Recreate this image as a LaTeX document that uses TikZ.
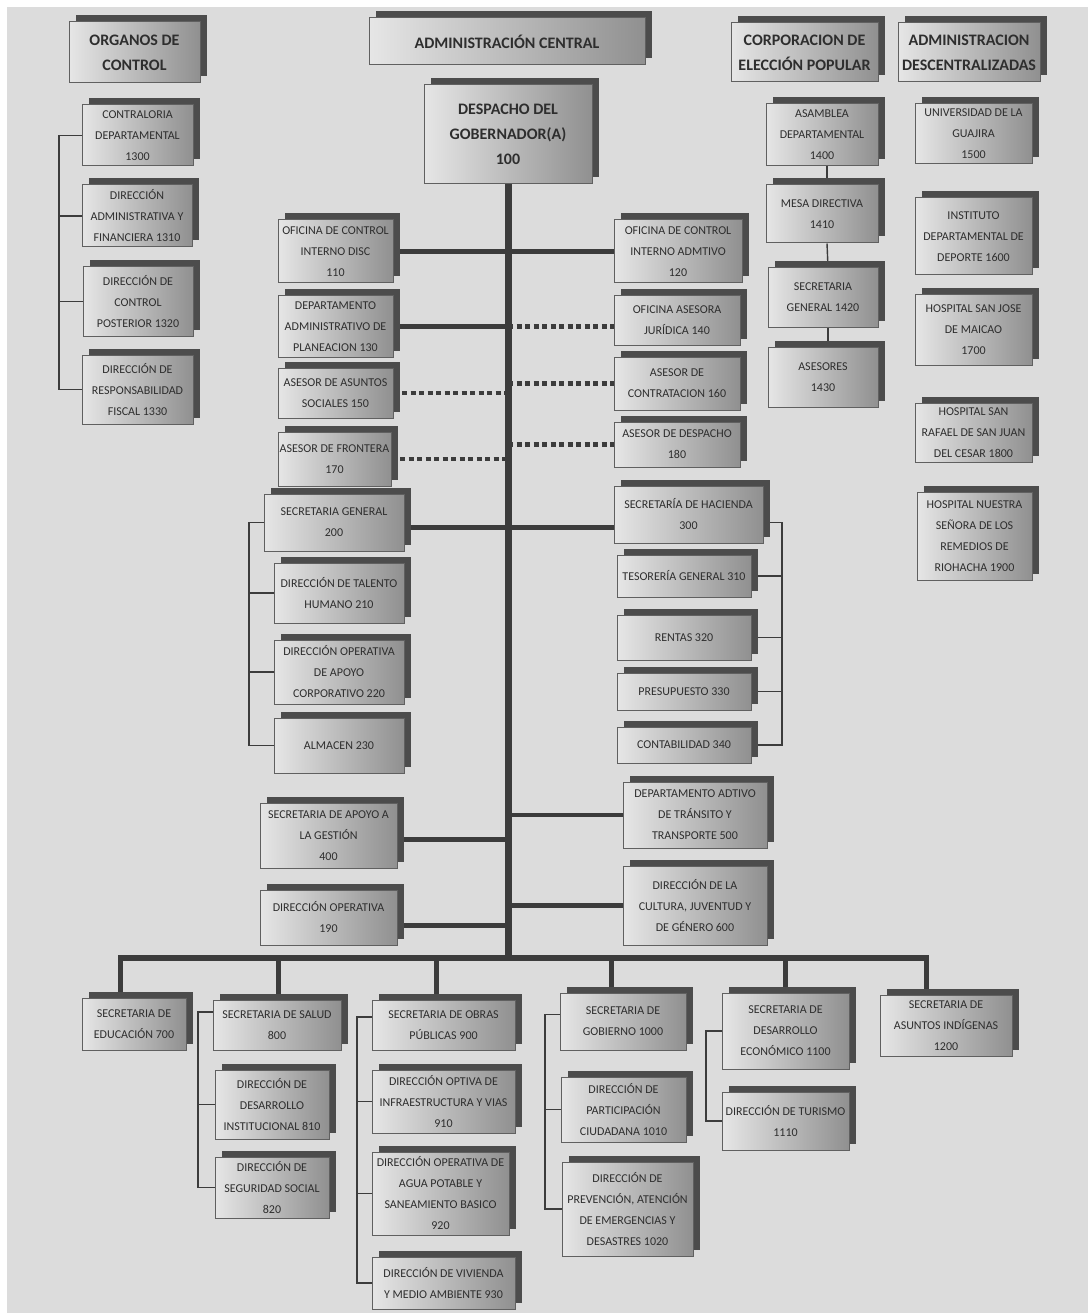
\documentclass[tikz,border=0pt]{standalone}
\usepackage{fontspec}
\setmainfont{Carlito}
\usetikzlibrary{shadows,calc}
\definecolor{bgc}{HTML}{DCDCDC}
\definecolor{boxL}{HTML}{E6E6E6}
\definecolor{boxR}{HTML}{909090}
\definecolor{boxline}{HTML}{606060}
\definecolor{shadowc}{HTML}{4C4C4C}
\definecolor{linec}{HTML}{3C3C3C}
\definecolor{txt}{HTML}{2E2E2E}
\pgfdeclarelayer{back}
\pgfdeclarelayer{lines}
\pgfsetlayers{back,lines,main}
\newcommand\bxfont{\fontsize{12}{21}\selectfont}
\newcommand\hdfont{\bfseries\fontsize{16}{25}\selectfont}
\newcommand\orgbox[7][]{%
  \pgfmathsetmacro\obw{#5-#3}\pgfmathsetmacro\obh{#6-#4}%
  \pgfmathsetmacro\obx{(#3+#5)/2}\pgfmathsetmacro\oby{(#4+#6)/2}%
  \node[box,#1,minimum width=\obw pt,minimum height=\obh pt] (#2) at (\obx,\oby) {#7};}
\tikzset{
  box/.style={draw=boxline, line width=1pt, left color=boxL, right color=boxR,
    text=txt, align=center, inner sep=0pt, font=\bxfont,
    general shadow={fill=shadowc, shadow xshift=6.5pt, shadow yshift=6.5pt}},
  hdr/.style={font=\hdfont},
  trunkline/.style={draw=linec, line width=7pt},
  barline/.style={draw=linec, line width=6pt},
  dropline/.style={draw=linec, line width=5pt},
  conn/.style={draw=linec, line width=4.5pt},
  dotconn/.style={draw=linec, line width=4.5pt, dash pattern=on 5pt off 3.5pt},
  bracket/.style={draw=linec, line width=1.4pt},
}
\begin{document}
\begin{tikzpicture}[x=1pt,y=-1pt]
\useasboundingbox (0,0) rectangle (1088,1313);
\begin{pgfonlayer}{back}
  \fill[white] (0,0) rectangle (1088,1313);
  \fill[bgc] (7,7) rectangle (1088,1313);
\end{pgfonlayer}

% headers
\orgbox[hdr]{hOC}{69}{22}{200}{83}{ORGANOS DE\\CONTROL}
\orgbox[hdr]{hAC}{369}{18}{645}{65}{ADMINISTRACIÓN CENTRAL}
\orgbox[hdr]{desp}{424}{85}{592}{184}{DESPACHO DEL\\GOBERNADOR(A)\\100}
\orgbox[hdr]{hCE}{731}{23}{878}{82}{CORPORACION DE\\ELECCIÓN POPULAR}
\orgbox[hdr]{hAD}{898}{23}{1040}{82}{ADMINISTRACION\\DESCENTRALIZADAS}

% organos de control
\orgbox{n1300}{82}{105}{193}{166}{CONTRALORIA\\DEPARTAMENTAL\\1300}
\orgbox{n1310}{82}{185}{192}{247}{DIRECCIÓN\\ADMINISTRATIVA Y\\FINANCIERA 1310}
\orgbox{n1320}{83}{267}{193}{336}{DIRECCIÓN DE\\CONTROL\\POSTERIOR 1320}
\orgbox{n1330}{82}{355}{193}{424}{DIRECCIÓN DE\\RESPONSABILIDAD\\FISCAL 1330}

% staff
\orgbox{n110}{278}{220}{393}{283}{OFICINA DE CONTROL\\INTERNO DISC\\110}
\orgbox{n130}{278}{296}{393}{357}{DEPARTAMENTO\\ADMINISTRATIVO DE\\PLANEACION 130}
\orgbox{n150}{278}{368}{393}{418}{ASESOR DE ASUNTOS\\SOCIALES 150}
\orgbox{n170}{278}{432}{391}{486}{ASESOR DE FRONTERA\\170}
\orgbox{n120}{614}{220}{742}{283}{OFICINA DE CONTROL\\INTERNO ADMTIVO\\120}
\orgbox{n140}{614}{296}{740}{345}{OFICINA ASESORA\\JURÍDICA 140}
\orgbox{n160}{614}{357}{740}{410}{ASESOR DE\\CONTRATACION 160}
\orgbox{n180}{614}{422}{740}{467}{ASESOR DE DESPACHO\\180}

\orgbox{n200}{264}{494}{404}{551}{SECRETARIA GENERAL\\200}
\orgbox{n210}{274}{563}{404}{623}{DIRECCIÓN DE TALENTO\\HUMANO 210}
\orgbox{n220}{274}{640}{404}{704}{DIRECCIÓN OPERATIVA\\DE APOYO\\CORPORATIVO 220}
\orgbox{n230}{274}{718}{404}{773}{ALMACEN 230}
\orgbox{n300}{614}{486}{763}{543}{SECRETARÍA DE HACIENDA\\300}
\orgbox{n310}{617}{555}{751}{597}{TESORERÍA GENERAL 310}
\orgbox{n320}{617}{615}{751}{660}{RENTAS 320}
\orgbox{n330}{617}{673}{751}{710}{PRESUPUESTO 330}
\orgbox{n340}{617}{727}{751}{763}{CONTABILIDAD 340}
\orgbox{n400}{260}{803}{397}{868}{SECRETARIA DE APOYO A\\LA GESTIÓN\\400}
\orgbox{n190}{260}{890}{397}{945}{DIRECCIÓN OPERATIVA\\190}
\orgbox{n500}{623}{782}{767}{848}{DEPARTAMENTO ADTIVO\\DE TRÁNSITO Y\\TRANSPORTE 500}
\orgbox{n600}{623}{866}{767}{945}{DIRECCIÓN DE LA\\CULTURA, JUVENTUD Y\\DE GÉNERO 600}

% bottom row
\orgbox{n700}{82}{998}{186}{1050}{SECRETARIA DE\\EDUCACIÓN 700}
\orgbox{n800}{213}{1000}{341}{1050}{SECRETARIA DE SALUD\\800}
\orgbox{n810}{215}{1070}{329}{1139}{DIRECCIÓN DE\\DESARROLLO\\INSTITUCIONAL 810}
\orgbox{n820}{215}{1157}{329}{1218}{DIRECCIÓN DE\\SEGURIDAD SOCIAL\\820}
\orgbox{n900}{372}{1000}{515}{1050}{SECRETARIA DE OBRAS\\PÚBLICAS 900}
\orgbox{n910}{372}{1070}{515}{1133}{DIRECCIÓN OPTIVA DE\\INFRAESTRUCTURA Y VIAS\\910}
\orgbox{n920}{372}{1152}{509}{1235}{DIRECCIÓN OPERATIVA DE\\AGUA POTABLE Y\\SANEAMIENTO BASICO\\920}
\orgbox{n930}{372}{1257}{515}{1309}{DIRECCIÓN DE VIVIENDA\\Y MEDIO AMBIENTE 930}
\orgbox{n1000}{560}{993}{686}{1050}{SECRETARIA DE\\GOBIERNO 1000}
\orgbox{n1010}{561}{1077}{686}{1142}{DIRECCIÓN DE\\PARTICIPACIÓN\\CIUDADANA 1010}
\orgbox{n1020}{562}{1162}{693}{1256}{DIRECCIÓN DE\\PREVENCIÓN, ATENCIÓN\\DE EMERGENCIAS Y\\DESASTRES 1020}
\orgbox{n1100}{722}{993}{849}{1069}{SECRETARIA DE\\DESARROLLO\\ECONÓMICO 1100}
\orgbox{n1110}{722}{1092}{849}{1150}{DIRECCIÓN DE TURISMO\\1110}
\orgbox{n1200}{880}{995}{1012}{1056}{SECRETARIA DE\\ASUNTOS INDÍGENAS\\1200}

% corporacion / descentralizadas
\orgbox{n1400}{766}{104}{878}{166}{ASAMBLEA\\DEPARTAMENTAL\\1400}
\orgbox{n1410}{766}{185}{878}{243}{MESA DIRECTIVA\\1410}
\orgbox{n1420}{768}{268}{878}{327}{SECRETARIA\\GENERAL 1420}
\orgbox{n1430}{768}{347}{878}{407}{ASESORES\\1430}
\orgbox{n1500}{915}{104}{1032}{164}{UNIVERSIDAD DE LA\\GUAJIRA\\1500}
\orgbox{n1600}{915}{198}{1032}{275}{INSTITUTO\\DEPARTAMENTAL DE\\DEPORTE 1600}
\orgbox{n1700}{915}{295}{1032}{365}{HOSPITAL SAN JOSE\\DE MAICAO\\1700}
\orgbox{n1800}{915}{403}{1032}{462}{HOSPITAL SAN\\RAFAEL DE SAN JUAN\\DEL CESAR 1800}
\orgbox{n1900}{917}{492}{1032}{580}{HOSPITAL NUESTRA\\SEÑORA DE LOS\\REMEDIOS DE\\RIOHACHA 1900}

\begin{pgfonlayer}{lines}
  % coordinates
  \coordinate (barL) at (118,958);
  \coordinate (barR) at (929,958);
  \coordinate (bO) at (59,0);
  \coordinate (bSG) at (249,0);
  \coordinate (bH) at (782,0);
  \coordinate (b800) at (198,0);
  \coordinate (b900) at (357,0);
  \coordinate (b1000) at (545,0);
  \coordinate (b1100) at (706,0);
  \coordinate (d700) at (120,992);
  \coordinate (d800) at (278,994);
  \coordinate (d900) at (436,994);
  \coordinate (d1000) at (611,987);
  \coordinate (d1100) at (785,987);
  \coordinate (d1200) at (926,989);
  \coordinate (c200) at ($(n200.east)+(0,5)$);
  \coordinate (c400) at ($(n400.east)+(0,4)$);
  \coordinate (c190) at ($(n190.east)+(0,8)$);
  \coordinate (c300) at ($(n300.east)+(0,8)$);
  \coordinate (c800) at ($(n800.west)+(0,-13)$);
  \coordinate (c900) at ($(n900.west)+(0,-8)$);
  \coordinate (c1000) at ($(n1000.west)+(0,-7)$);

  % staff connectors
  \draw[conn] (n110.east) -- (n120.west);
  \draw[conn] (n130.east) -- (n130.east -| desp.south);
  \draw[dotconn] (n130.east -| desp.south) -- (n130.east -| n140.west);
  \draw[dotconn] (n150.east) -- (n150.east -| desp.south);
  \draw[dotconn] (desp.south |- n160.west) -- (n160.west);
  \draw[dotconn] (n170.east) -- (n170.east -| desp.south);
  \draw[dotconn] (desp.south |- n180.west) -- (n180.west);
  \draw[conn] (c200) -- (c200 -| n300.west);
  \draw[conn] (c400) -- (c400 -| desp.south);
  \draw[conn] (c190) -- (c190 -| desp.south);
  \draw[conn] (desp.south |- n500.west) -- (n500.west);
  \draw[conn] (desp.south |- n600.west) -- (n600.west);

  % trunk and bar
  \draw[trunkline] (desp.south) -- (desp.south |- barL);
  \draw[barline] (barL) -- (barR);
  \foreach \d in {d700,d800,d900,d1000,d1100,d1200}
    \draw[dropline] (\d |- barL) -- (\d);

  % brackets
  \draw[bracket] (n1300.west) -- (n1300.west -| bO) -- (n1330.west -| bO) -- (n1330.west);
  \draw[bracket] (n1310.west) -- (n1310.west -| bO);
  \draw[bracket] (n1320.west) -- (n1320.west -| bO);

  \draw[bracket] (n200.west) -- (n200.west -| bSG) -- (n230.west -| bSG) -- (n230.west);
  \draw[bracket] (n210.west) -- (n210.west -| bSG);
  \draw[bracket] (n220.west) -- (n220.west -| bSG);

  \draw[bracket] (c300) -- (c300 -| bH) -- (n340.east -| bH) -- (n340.east);
  \draw[bracket] (n310.east) -- (n310.east -| bH);
  \draw[bracket] (n320.east) -- (n320.east -| bH);
  \draw[bracket] (n330.east) -- (n330.east -| bH);

  \draw[bracket] (c800) -- (c800 -| b800) -- (n820.west -| b800) -- (n820.west);
  \draw[bracket] (n810.west) -- (n810.west -| b800);

  \draw[bracket] (c900) -- (c900 -| b900) -- (n930.west -| b900) -- (n930.west);
  \draw[bracket] (n910.west) -- (n910.west -| b900);
  \draw[bracket] (n920.west) -- (n920.west -| b900);

  \draw[bracket] (c1000) -- (c1000 -| b1000) -- (n1020.west -| b1000) -- (n1020.west);
  \draw[bracket] (n1010.west) -- (n1010.west -| b1000);

  \draw[bracket] (n1100.west) -- (n1100.west -| b1100) -- (n1110.west -| b1100) -- (n1110.west);

  \draw[bracket] ($(n1400.south)+(5,0)$) -- ($(n1410.north)+(5,0)$);
  \draw[bracket] ($(n1410.south)+(5,0)$) -- ($(n1420.north)+(5,0)$);
  \draw[bracket] ($(n1420.south)+(5,0)$) -- ($(n1430.north)+(5,0)$);
\end{pgfonlayer}
\end{tikzpicture}
\end{document}
